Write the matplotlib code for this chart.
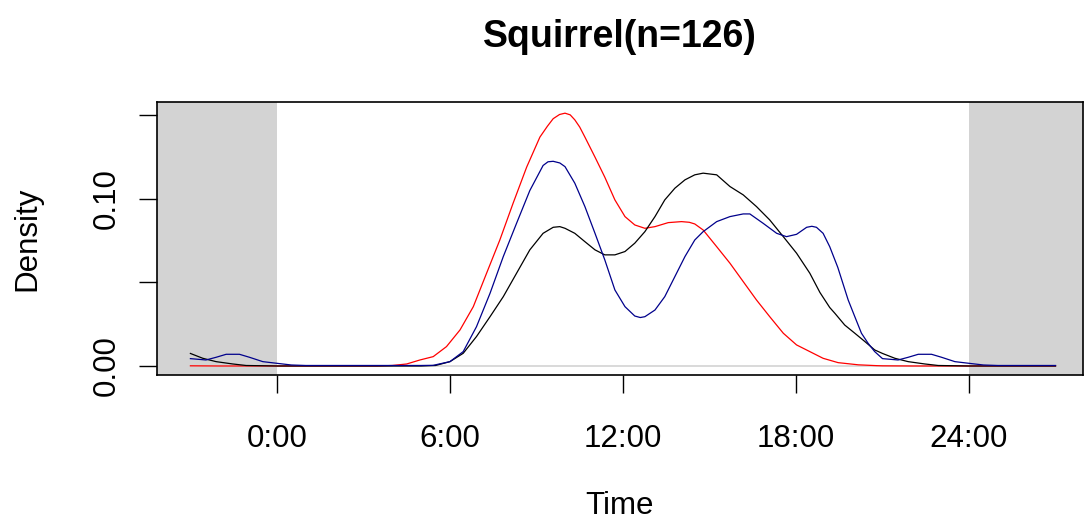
import matplotlib
matplotlib.use("Agg")
import matplotlib.pyplot as plt
import numpy as np

plt.rcParams['font.family'] = ['Liberation Sans', 'DejaVu Sans']

# activity densities, hours 0-24 (curve wraps around midnight)
red_hours = [0, 3.0, 3.5, 4.0, 4.5, 4.96, 5.42, 5.88, 6.35, 6.81, 7.27, 7.73, 8.19, 8.66,
             9.12, 9.38, 9.58, 9.80, 9.99, 10.17, 10.33, 10.50, 10.68, 11.03, 11.37, 11.72,
             12.07, 12.41, 12.76, 13.11, 13.57, 14.03, 14.30, 14.49, 14.78, 15.25, 15.71,
             16.17, 16.63, 17.09, 17.56, 18.02, 18.48, 18.94, 19.46, 20.16, 20.8, 21.0, 22.0, 24]
red_dens = [0, 0, 0, 0.0003, 0.0012, 0.0036, 0.0056, 0.0116, 0.0216, 0.0355, 0.0555, 0.0754,
            0.0974, 0.119, 0.137, 0.1435, 0.148, 0.1505, 0.1513, 0.1503, 0.1473, 0.1430, 0.137,
            0.125, 0.113, 0.0994, 0.0894, 0.0844, 0.0824, 0.0834, 0.0858, 0.0864, 0.0860,
            0.0850, 0.0814, 0.0714, 0.0615, 0.0505, 0.0395, 0.0295, 0.0196, 0.0126, 0.0086,
            0.0046, 0.0020, 0.0007, 0.0002, 0.0001, 0, 0]

black_hours = [0, 3.0, 5.0, 5.5, 6.0, 6.46, 6.92, 7.39, 7.85, 8.31, 8.77, 9.23, 9.58, 9.81,
               9.99, 10.33, 10.68, 11.03, 11.37, 11.72, 12.07, 12.41, 12.76, 13.11, 13.45,
               13.80, 14.15, 14.49, 14.78, 15.25, 15.71, 16.17, 16.63, 17.09, 17.56, 18.02,
               18.48, 18.83, 19.17, 19.35, 19.69, 20.04, 20.39, 20.73, 21.0, 21.43, 21.89,
               22.47, 22.93, 24]
black_dens = [0, 0, 0, 0.0003, 0.0026, 0.0076, 0.0176, 0.0295, 0.0415, 0.0555, 0.0695, 0.0794,
              0.0830, 0.0834, 0.0824, 0.0794, 0.0744, 0.0695, 0.0665, 0.0665, 0.0685, 0.0735,
              0.0804, 0.0894, 0.0994, 0.1064, 0.1114, 0.1144, 0.1154, 0.1144, 0.1074, 0.1024,
              0.0954, 0.0874, 0.0774, 0.0675, 0.0555, 0.0440, 0.0350, 0.0315, 0.0245, 0.0196,
              0.0146, 0.0096, 0.0075, 0.0046, 0.0026, 0.0012, 0.0003, 0]

blue_hours = [0, 0.5, 1.0, 3.0, 5.0, 5.42, 6.0, 6.46, 6.92, 7.39, 7.85, 8.31, 8.77, 9.23, 9.40,
              9.58, 9.81, 9.99, 10.33, 10.68, 11.03, 11.37, 11.72, 12.07, 12.41, 12.60, 12.76,
              13.11, 13.45, 13.80, 14.15, 14.49, 14.78, 15.25, 15.71, 16.17, 16.40, 16.86,
              17.33, 17.67, 18.02, 18.37, 18.55, 18.71, 18.94, 19.17, 19.45, 19.81, 20.04,
              20.27, 20.50, 20.73, 21.0, 21.54, 21.89, 22.24, 22.70, 23.05, 23.51, 24]
blue_dens = [0.0016, 0.0006, 0.0003, 0.0003, 0.0003, 0.0004, 0.0026, 0.0086, 0.0235, 0.0435,
             0.0655, 0.0854, 0.105, 0.120, 0.1222, 0.1225, 0.1215, 0.1193, 0.1094, 0.0954,
             0.0794, 0.0635, 0.0455, 0.0355, 0.0299, 0.0290, 0.0295, 0.0335, 0.0415, 0.0535,
             0.0655, 0.0754, 0.0804, 0.0864, 0.0894, 0.0910, 0.0910, 0.0854, 0.0794, 0.0774,
             0.0788, 0.0830, 0.0836, 0.0830, 0.0794, 0.0714, 0.0590, 0.0395, 0.0295, 0.0196,
             0.0136, 0.0086, 0.0044, 0.0036, 0.0052, 0.0070, 0.0070, 0.0052, 0.0026, 0.0016]

tick_hours = [0, 6, 12, 18, 24]
tick_labels = ["0:00", "6:00", "12:00", "18:00", "24:00"]


def wrap(hours, dens):
    # extend the circular density 3 hours either side of the day
    h = np.array(hours)
    d = np.array(dens)
    left = h >= 21
    right = h <= 3
    hh = np.concatenate([h[left] - 24, h, h[right] + 24])
    dd = np.concatenate([d[left], d, d[right]])
    order = np.argsort(hh, kind="stable")
    return hh[order], dd[order]


fig = plt.figure(figsize=(10.84, 5.25), dpi=100)
ax = fig.add_axes([0.1448, 0.2857, 0.8542, 0.5191])

ax.axvspan(-4.2, 0, color="lightgrey", lw=0)
ax.axvspan(24, 28.2, color="lightgrey", lw=0)
ax.axhline(0, color="lightgrey", lw=1.2)

for hours, dens, col in [(red_hours, red_dens, "red"),
                         (black_hours, black_dens, "black"),
                         (blue_hours, blue_dens, "darkblue")]:
    x, y = wrap(hours, dens)
    ax.plot(x, y, color=col, lw=0.9)

ax.set_xlim(-4.16, 27.95)
ax.set_ylim(-0.0054, 0.1577)

ax.set_xticks(tick_hours)
ax.set_xticklabels(tick_labels)
ax.set_yticks([0, 0.05, 0.10, 0.15])
ax.set_yticklabels(["0.00", "", "0.10", ""], rotation=90, va="center")

ax.tick_params(axis="both", length=13, width=1, labelsize=22.5, color="black")
ax.tick_params(axis="x", pad=22)
ax.tick_params(axis="y", pad=12)
for s in ax.spines.values():
    s.set_linewidth(1.2)

ax.set_xlabel("Time", fontsize=22.5, labelpad=27)
ax.set_ylabel("Density", fontsize=22.5, labelpad=36)
ax.set_title("Squirrel(n=126)", fontsize=27, fontweight="bold", pad=40)

fig.savefig("out.png", dpi=100)
